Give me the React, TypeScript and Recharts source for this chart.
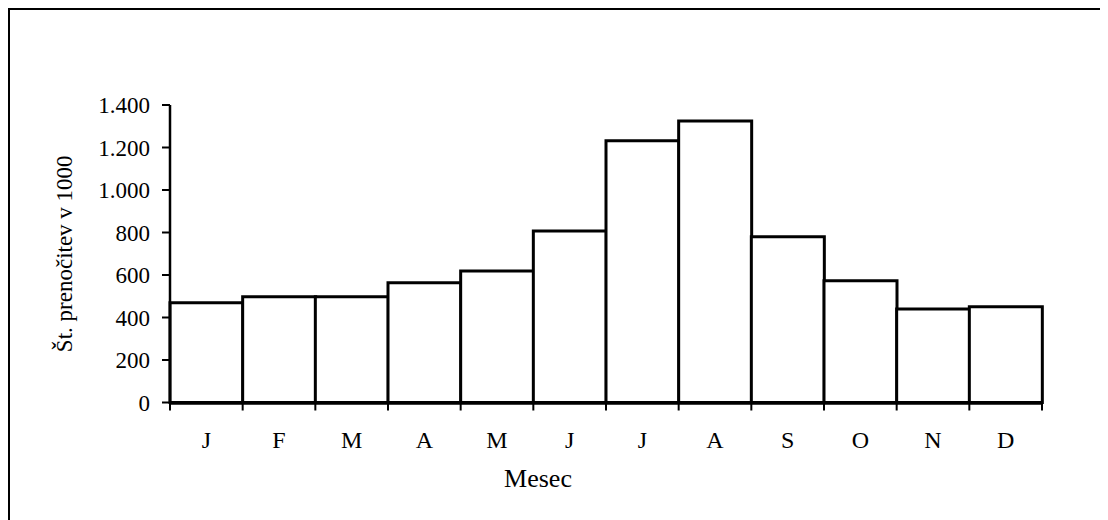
import { Bar, BarChart, Label, XAxis, YAxis } from "recharts";

// monthly overnight stays (in 1000)
const MONTHS = ["J", "F", "M", "A", "M", "J", "J", "A", "S", "O", "N", "D"];
const STAYS = [470, 498, 498, 564, 619, 807, 1232, 1325, 780, 573, 440, 451];
const Y_TICKS = [0, 200, 400, 600, 800, 1000, 1200, 1400];
const EDGE_TICKS = [0, 1, 2, 3, 4, 5, 6, 7, 8, 9, 10, 11, 12];

const FONT = "'Liberation Serif', 'Times New Roman', serif";

// pos = middle of each month slot on the 0..12 edge axis
const chartData = MONTHS.map((month, i) => ({ key: `${month}${i}`, month, pos: i + 0.5, stays: STAYS[i] }));

function formatThousands(value: number): string {
  return String(value).replace(/\B(?=(\d{3})+(?!\d))/g, ".");
}

export default function App() {
  const tickStyle = { fill: "#000", fontSize: 23, fontFamily: FONT };

  return (
    <div
      style={{
        width: 1100,
        height: 512,
        boxSizing: "border-box",
        borderLeft: "2px solid #000",
        borderTop: "2px solid #000",
        background: "#fff",
        overflow: "hidden"
      }}
    >
      <BarChart
        width={1098}
        height={510}
        data={chartData}
        margin={{ top: 95, right: 66, left: 10, bottom: 115.5 }}
        barCategoryGap={0}
      >
        {/* category boundaries, Excel style ticks between months */}
        <XAxis
          xAxisId="edges"
          type="number"
          dataKey="pos"
          domain={[0, 12]}
          ticks={EDGE_TICKS}
          interval={0}
          allowDataOverflow
          height={1}
          axisLine={false}
          stroke="#000"
          tickSize={8}
          tickLine={{ stroke: "#000", strokeWidth: 2 }}
          tickFormatter={() => ""}
        />
        <XAxis
          xAxisId="months"
          dataKey="key"
          height={1}
          interval={0}
          tickLine={false}
          tickSize={0}
          tickMargin={27}
          tickFormatter={(_v: string, i: number) => MONTHS[i]}
          tick={{ ...tickStyle, fontSize: 24 }}
          stroke="#000"
          axisLine={{ stroke: "#000", strokeWidth: 2.5 }}
        >
          <Label
            value="Mesec"
            position="bottom"
            offset={64}
            dx={-68}
            style={{ fill: "#000", fontSize: 26, fontFamily: FONT }}
          />
        </XAxis>
        <YAxis
          width={150}
          domain={[0, 1400]}
          ticks={Y_TICKS}
          interval={0}
          stroke="#000"
          tickSize={8}
          tickMargin={12}
          tickFormatter={formatThousands}
          tick={tickStyle}
          tickLine={{ stroke: "#000", strokeWidth: 2 }}
          axisLine={{ stroke: "#000", strokeWidth: 2.5 }}
        >
          <Label
            value="Št. prenočitev v 1000"
            angle={-90}
            position="insideLeft"
            offset={44}
            textAnchor="middle"
            style={{ fill: "#000", fontSize: 23, fontFamily: FONT, textAnchor: "middle" }}
          />
        </YAxis>
        <Bar
          xAxisId="months"
          dataKey="stays"
          fill="#fff"
          stroke="#000"
          strokeWidth={3}
          isAnimationActive={false}
        />
      </BarChart>
    </div>
  );
}
